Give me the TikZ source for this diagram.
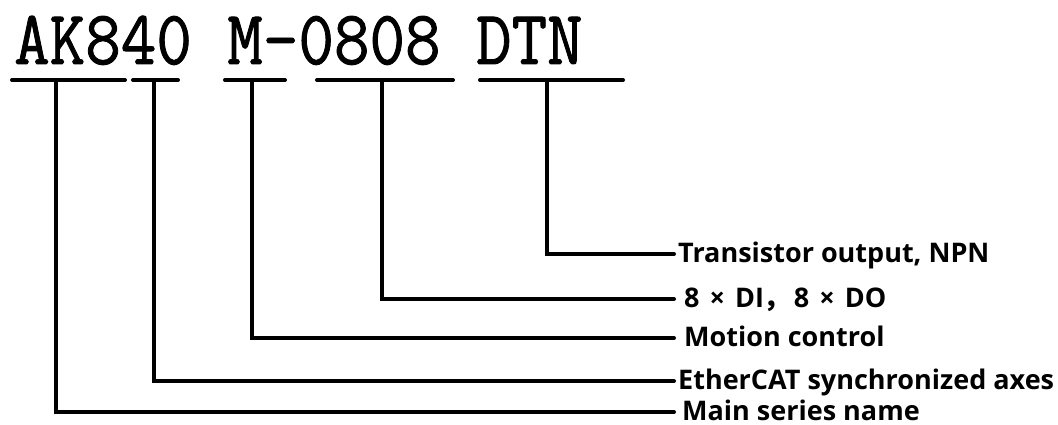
\documentclass[tikz,border=0pt]{standalone}
\usepackage{fontspec}
\newfontfamily\labelfont{Open Sans}
\newfontfamily\codefont[FakeBold=1.2]{Latin Modern Mono}
\newfontfamily\cjk{Noto Sans CJK SC}
\usetikzlibrary{positioning}

\begin{document}
\begin{tikzpicture}[
    x = 1pt, y = -1pt, %
    line cap = round, %
    line join = miter %
    ]

    \tikzset{
    code/.style = {font = \fontsize{77}{77}\selectfont\codefont, inner sep = 0pt, anchor = base west},
    desc/.style = {font = \fontsize{27}{27}\selectfont\labelfont\bfseries, inner xsep = 4pt,
                   inner ysep = 0pt, anchor = west, text height = 18pt, text depth = 1pt},
    bar/.style  = {line width = 4pt},
    lead/.style = {line width = 4pt}
    }

    \useasboundingbox (0,0) rectangle (1058,425);

    % the type code
    \node[code] (code) at (14,64) {\scalebox{0.896}[1]{AK840 M–0808 DTN}};

    % underlines
    \coordinate (s1) at (12,80);  \coordinate (e1) at (125,80);  \coordinate (m1) at (56,80);
    \coordinate (s2) at (133,80); \coordinate (e2) at (178,80);  \coordinate (m2) at (154,80);
    \coordinate (s3) at (225,80); \coordinate (e3) at (285,80);  \coordinate (m3) at (252,80);
    \coordinate (s4) at (317,80); \coordinate (e4) at (453,80);  \coordinate (m4) at (382,80);
    \coordinate (s5) at (480,80); \coordinate (e5) at (623,80);  \coordinate (m5) at (547,80);

    \draw[bar] (s1) -- (e1);
    \draw[bar] (s2) -- (e2);
    \draw[bar] (s3) -- (e3);
    \draw[bar] (s4) -- (e4);
    \draw[bar] (s5) -- (e5);

    % meanings
    \node[desc] (l5) at (674,254) {Transistor output, NPN};
    \node[desc] (l4) at (674,299) {\hspace{6pt}8 \hspace{3pt}× \hspace{3pt}DI{\cjk ，}\hspace{3pt}8 \hspace{3pt}× \hspace{3pt}DO};
    \node[desc] (l3) at (674,338) {\hspace{6pt}Motion control};
    \node[desc] (l2) at (674,381) {EtherCAT synchronized axes};
    \node[desc] (l1) at (674,412) {\hspace{4pt}Main series name};

    \draw[lead] (m5) |- (l5.west);
    \draw[lead] (m4) |- (l4.west);
    \draw[lead] (m3) |- (l3.west);
    \draw[lead] (m2) |- (l2.west);
    \draw[lead] (m1) |- (l1.west);

\end{tikzpicture}
\end{document}
